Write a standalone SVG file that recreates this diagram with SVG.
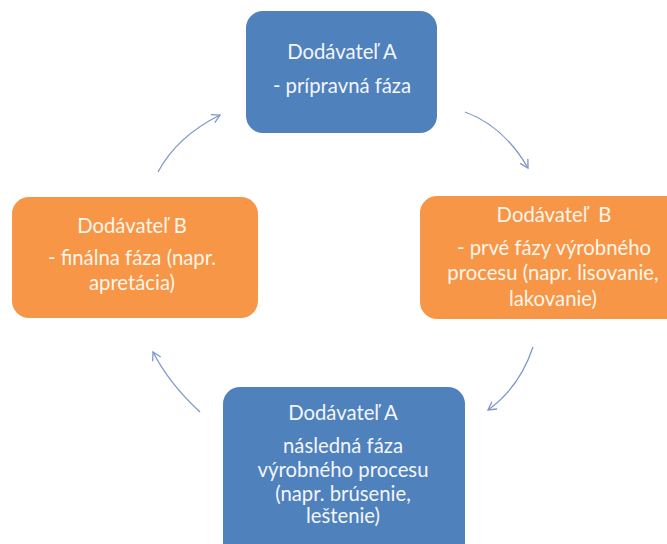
<svg xmlns="http://www.w3.org/2000/svg" width="667" height="544" viewBox="0 0 667 544">
<defs>
<style>
.blue{fill:#4f81bd}
.orange{fill:#f79646}
.t{font-family:Lato,"Liberation Sans",sans-serif;font-size:20.3px;text-anchor:middle}
.tb{fill:#f3f6fb}
.to{fill:#fff5ea}
.arr{fill:none;stroke:#7f98c8;stroke-width:1.3;marker-end:url(#ah)}
</style>
<marker id="ah" markerUnits="userSpaceOnUse" markerWidth="12" markerHeight="12" refX="9" refY="5" orient="auto">
<path d="M1,0.5 L9,5 L1,9.5" fill="none" stroke="#7f98c8" stroke-width="1.3"/>
</marker>
</defs>
<rect width="667" height="544" fill="#ffffff"/>
<g id="connectors">
<path class="arr" d="M158,172 Q177,136.5 220,115"/>
<path class="arr" d="M465,112 Q503.5,126 528,168"/>
<path class="arr" d="M533,347 Q519.5,387.5 488,410"/>
<path class="arr" d="M200,412 Q169.5,384 153,352"/>
</g>
<g id="node-top">
<rect class="blue" x="246" y="11" width="191" height="122" rx="17"/>
<text class="t tb" x="342" y="59">Dodávateľ A</text>
<text class="t tb" x="342" y="93">- prípravná fáza</text>
</g>
<g id="node-right">
<rect class="orange" x="420" y="196" width="268" height="123" rx="17"/>
<text class="t to" x="554" y="222">Dodávateľ&#160; B</text>
<text class="t to" x="554" y="255">- prvé fázy výrobného</text>
<text class="t to" x="553" y="280">procesu (napr. lisovanie,</text>
<text class="t to" x="553" y="306">lakovanie)</text>
</g>
<g id="node-left">
<rect class="orange" x="12" y="197" width="246" height="121" rx="17"/>
<text class="t to" x="132" y="233">Dodávateľ B</text>
<text class="t to" x="132" y="265">- finálna fáza (napr.</text>
<text class="t to" x="132" y="290">apretácia)</text>
</g>
<g id="node-bottom">
<rect class="blue" x="223" y="387" width="242" height="175" rx="17"/>
<text class="t tb" x="343" y="420">Dodávateľ A</text>
<text class="t tb" x="343" y="453">následná fáza</text>
<text class="t tb" x="343" y="477">výrobného procesu</text>
<text class="t tb" x="343" y="501">(napr. brúsenie,</text>
<text class="t tb" x="343" y="523">leštenie)</text>
</g>
</svg>
